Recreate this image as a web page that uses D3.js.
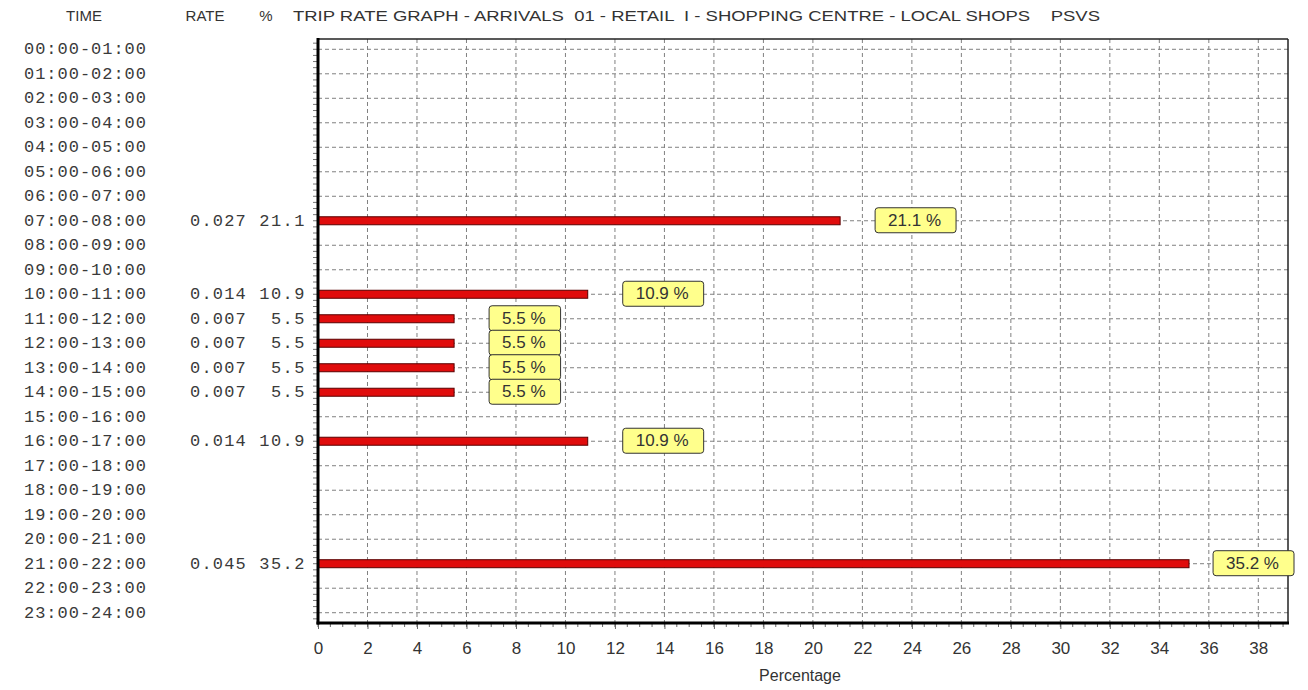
<!DOCTYPE html>
<html>
<head>
<meta charset="utf-8">
<script src="https://cdn.jsdelivr.net/npm/d3@7"></script>
<style>
  html, body { margin: 0; padding: 0; background: #fff; }
  svg { display: block; }
</style>
</head>
<body>
<svg id="chart" width="1308" height="690"></svg>
<script>
// ---- data ----
const times = ["00:00-01:00","01:00-02:00","02:00-03:00","03:00-04:00","04:00-05:00","05:00-06:00",
  "06:00-07:00","07:00-08:00","08:00-09:00","09:00-10:00","10:00-11:00","11:00-12:00",
  "12:00-13:00","13:00-14:00","14:00-15:00","15:00-16:00","16:00-17:00","17:00-18:00",
  "18:00-19:00","19:00-20:00","20:00-21:00","21:00-22:00","22:00-23:00","23:00-24:00"];
const rates = [null,null,null,null,null,null,null,0.027,null,null,0.014,0.007,
  0.007,0.007,0.007,null,0.014,null,null,null,null,0.045,null,null];
const percents = [null,null,null,null,null,null,null,21.1,null,null,10.9,5.5,
  5.5,5.5,5.5,null,10.9,null,null,null,null,35.2,null,null];
const xTicks = [0,2,4,6,8,10,12,14,16,18,20,22,24,26,28,30,32,34,36,38];
const headers = ["TIME", "RATE", "%"];
const title = "TRIP RATE GRAPH - ARRIVALS  01 - RETAIL  I - SHOPPING CENTRE - LOCAL SHOPS    PSVS";
const xLabel = "Percentage";

// ---- layout ----
const svg = d3.select("#chart");
const L = 318, R = 1288, T = 39, B = 623;
const x = d3.scaleLinear().domain([0, 39.2]).range([L, R]);
const y = d3.scalePoint().domain(times).range([T, B]).padding(0.42);
const step = y.step();
const textCol = "#333";
const mono = "'Liberation Mono', 'DejaVu Sans Mono', monospace";
const sans = "'Liberation Sans', Arial, sans-serif";

// headers
const hx = [84, 205, 266];
headers.forEach((h, i) => {
  svg.append("text").attr("x", hx[i]).attr("y", 21).attr("text-anchor", "middle")
    .attr("font-family", sans).attr("font-size", 15).attr("fill", textCol).text(h);
});
svg.append("text").attr("x", 293).attr("y", 21)
  .attr("font-family", sans).attr("font-size", 15).attr("fill", textCol)
  .attr("xml:space", "preserve").style("white-space", "pre")
  .attr("textLength", 807).attr("lengthAdjust", "spacingAndGlyphs").text(title);

// grid: horizontal dashed at each row
const grid = svg.append("g");
grid.selectAll("line.h").data(times).join("line")
  .attr("x1", L).attr("x2", R).attr("y1", d => y(d)).attr("y2", d => y(d))
  .attr("stroke", "#808080").attr("stroke-width", 1).attr("stroke-dasharray", "4,3");
// vertical dashed
grid.selectAll("line.v").data(xTicks.filter(v => v > 0)).join("line")
  .attr("x1", d => x(d)).attr("x2", d => x(d)).attr("y1", T).attr("y2", B)
  .attr("stroke", "#808080").attr("stroke-width", 1).attr("stroke-dasharray", "4,3");

// left minor ticks
const y0 = y(times[0]);
const minorY = [];
for (let k = -2; k <= 24 * 4; k++) {
  const yy = y0 + k * step / 4;
  if (yy >= T && yy <= B) minorY.push(yy);
}
svg.append("g").selectAll("line").data(minorY).join("line")
  .attr("x1", L - 5).attr("x2", L).attr("y1", d => d).attr("y2", d => d)
  .attr("stroke", "#777").attr("stroke-width", 1);

// bottom minor ticks
const minorX = d3.range(0, 39.01, 0.5).filter(v => x(v) <= R);
svg.append("g").selectAll("line").data(minorX).join("line")
  .attr("x1", d => x(d)).attr("x2", d => x(d)).attr("y1", B).attr("y2", B + 4)
  .attr("stroke", "#666").attr("stroke-width", 1);

// bottom axis with labels
const xAxis = d3.axisBottom(x).tickValues(xTicks).tickSize(6).tickPadding(13).tickFormat(d3.format("d"));
const gx = svg.append("g").attr("transform", `translate(0,${B})`).call(xAxis);
gx.select(".domain").remove();
gx.selectAll(".tick line").attr("stroke", "#666");
gx.selectAll(".tick text").attr("font-family", sans).attr("font-size", 17).attr("fill", textCol);

svg.append("text").attr("x", 800).attr("y", 681).attr("text-anchor", "middle")
  .attr("font-family", sans).attr("font-size", 16).attr("fill", textCol).text(xLabel);

// frame
svg.append("line").attr("x1", L).attr("x2", R).attr("y1", T).attr("y2", T).attr("stroke", "#222").attr("stroke-width", 1.5);
svg.append("line").attr("x1", R).attr("x2", R).attr("y1", T).attr("y2", B).attr("stroke", "#222").attr("stroke-width", 1.5);

// row labels
const rows = svg.append("g");
rows.selectAll("text.t").data(times).join("text")
  .attr("x", 24).attr("y", d => y(d) + 5)
  .attr("font-family", mono).attr("font-size", 17).attr("fill", "#3a3a3a")
  .attr("textLength", 122).attr("lengthAdjust", "spacing").text(d => d);
rows.selectAll("text.r").data(times.map((t, i) => ({t, v: rates[i]})).filter(d => d.v != null)).join("text")
  .attr("x", 247).attr("y", d => y(d.t) + 5).attr("text-anchor", "end")
  .attr("font-family", mono).attr("font-size", 17).attr("letter-spacing", 1.2).attr("fill", "#3a3a3a").text(d => d3.format(".3f")(d.v));
rows.selectAll("text.p").data(times.map((t, i) => ({t, v: percents[i]})).filter(d => d.v != null)).join("text")
  .attr("x", 306).attr("y", d => y(d.t) + 5).attr("text-anchor", "end")
  .attr("font-family", mono).attr("font-size", 17).attr("letter-spacing", 1.5).attr("fill", "#3a3a3a").text(d => d3.format(".1f")(d.v));

// bars
const barData = times.map((t, i) => ({t, v: percents[i]})).filter(d => d.v != null);
svg.append("g").selectAll("rect").data(barData).join("rect")
  .attr("x", x(0)).attr("y", d => y(d.t) - 4).attr("width", d => x(d.v) - x(0)).attr("height", 8)
  .attr("fill", "#e00c0c").attr("stroke", "#5a0000").attr("stroke-width", 1);

// axes thick lines
svg.append("line").attr("x1", L).attr("x2", L).attr("y1", T - 1).attr("y2", B + 1.5).attr("stroke", "#000").attr("stroke-width", 3);
svg.append("line").attr("x1", L - 1.5).attr("x2", R + 1).attr("y1", B).attr("y2", B).attr("stroke", "#000").attr("stroke-width", 3);

// value labels
const lab = svg.append("g");
barData.forEach(d => {
  const g = lab.append("g");
  const bx = x(d.v) + 35;
  const cy = y(d.t) - 1;
  const rect = g.append("rect");
  const txt = g.append("text").attr("font-family", sans).attr("font-size", 17).attr("fill", textCol)
    .attr("y", cy + 6).text(d3.format(".1f")(d.v) + " %");
  const w = txt.node().getComputedTextLength();
  const bw = w + 28;
  const left = Math.min(bx, 1294 - bw);
  txt.attr("x", left + 13);
  rect.attr("x", left).attr("y", cy - 12).attr("width", bw).attr("height", 25)
    .attr("rx", 3).attr("fill", "#ffff8c").attr("stroke", "#333").attr("stroke-width", 1);
});
</script>
</body>
</html>
